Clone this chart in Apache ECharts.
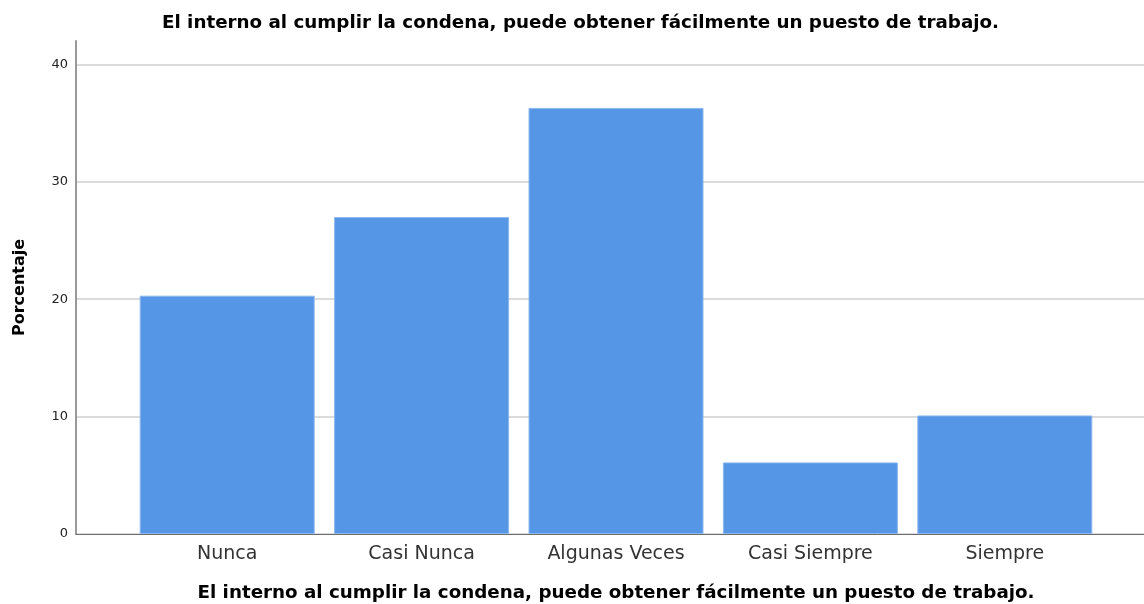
<!DOCTYPE html>
<html>
<head>
<meta charset="utf-8">
<script src="https://cdn.jsdelivr.net/npm/echarts@6/dist/echarts.min.js"></script>
<style>
  html, body { margin: 0; padding: 0; background: #fff; }
  #chart { width: 1144px; height: 604px; }
</style>
</head>
<body>
<div id="chart"></div>
<script>
const categories = ['Nunca', 'Casi Nunca', 'Algunas Veces', 'Casi Siempre', 'Siempre']
const percentages = [20.3, 27.0, 36.3, 6.1, 10.1]
const titleText = 'El interno al cumplir la condena, puede obtener fácilmente un puesto de trabajo.'

const font = 'DejaVu Sans, Liberation Sans, sans-serif'
const yMax = 42

const chart = echarts.init(document.getElementById('chart'))
chart.setOption({
  animation: false,
  textStyle: { fontFamily: font },
  title: {
    text: titleText,
    left: 157,
    top: 9,
    textStyle: { fontFamily: font, fontSize: 18.3, fontWeight: 'bold', color: '#000' }
  },
  grid: [
    // frame: y axis, gridlines, baseline
    { left: 76, right: 0, top: 41, bottom: 70, outerBoundsMode: 'none' },
    // bars, inset like SPSS
    { left: 130, right: 42, top: 41, bottom: 70, outerBoundsMode: 'none' }
  ],
  xAxis: [
    {
      type: 'category',
      gridIndex: 0,
      data: categories,
      axisLine: { lineStyle: { color: '#6e6e6e', width: 1 } },
      axisTick: { show: false },
      axisLabel: { show: false }
    },
    {
      type: 'category',
      gridIndex: 1,
      data: categories,
      name: titleText,
      nameLocation: 'middle',
      nameGap: 50,
      nameTextStyle: { fontFamily: font, fontSize: 18.3, fontWeight: 'bold', color: '#000' },
      axisLine: { show: false },
      axisTick: { show: false },
      axisLabel: { fontFamily: font, color: '#333', fontSize: 19, margin: 11 }
    }
  ],
  yAxis: [
    {
      type: 'value',
      gridIndex: 0,
      min: 0,
      max: yMax,
      interval: 10,
      name: 'Porcentaje',
      nameLocation: 'middle',
      nameGap: 48,
      nameTextStyle: { fontFamily: font, fontSize: 16, fontWeight: 'bold', color: '#000' },
      axisLine: { show: true, lineStyle: { color: '#999', width: 2 } },
      axisTick: { show: false },
      axisLabel: { fontFamily: font, color: '#222', fontSize: 13, margin: 8, showMaxLabel: false },
      splitLine: { showMaxLine: false, lineStyle: { color: '#cfcfcf', width: 1.5 } }
    },
    {
      type: 'value',
      gridIndex: 1,
      min: 0,
      max: yMax,
      interval: 10,
      show: false,
      splitLine: { show: false }
    }
  ],
  series: [
    {
      type: 'bar',
      xAxisIndex: 1,
      yAxisIndex: 1,
      data: percentages,
      barWidth: 175,
      itemStyle: { color: '#5596e6', borderColor: '#8db8ee', borderWidth: 1 }
    }
  ]
})
</script>
</body>
</html>
